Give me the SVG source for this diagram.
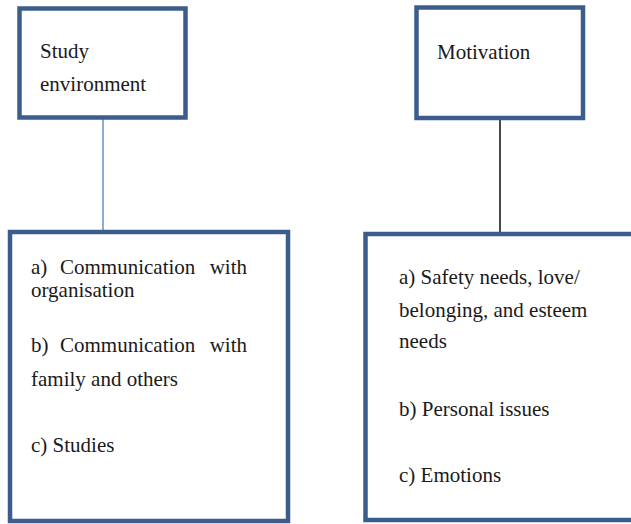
<svg xmlns="http://www.w3.org/2000/svg" width="631" height="524" viewBox="0 0 631 524">
  <style>
    .box { fill: #ffffff; stroke: #3c5d8c; stroke-width: 4.5; }
  </style>
  <rect width="631" height="524" fill="#ffffff"/>

  <!-- connectors -->
  <g id="connectors">
    <line x1="103" y1="119" x2="103" y2="231" stroke="#4f81bd" stroke-width="1.3"/>
    <line x1="500" y1="120" x2="500" y2="233" stroke="#1a1a1a" stroke-width="1.6"/>
  </g>

  <g font-family="Liberation Serif, Times New Roman, Tinos, Noto Serif, DejaVu Serif, serif" font-size="21" fill="#1a1a1a">
    <g id="study-environment">
      <rect class="box" x="19.5" y="8.5" width="166" height="109"/>
      <text x="40" y="58">Study</text>
      <text x="40" y="91">environment</text>
    </g>

    <g id="motivation">
      <rect class="box" x="416.5" y="7.5" width="166.5" height="110.5"/>
      <text x="437" y="59">Motivation</text>
    </g>

    <g id="study-details">
      <rect class="box" x="10" y="232" width="278" height="289"/>
      <text x="31" y="274">a)<tspan x="60">Communication</tspan><tspan x="247" text-anchor="end">with</tspan></text>
      <text x="31" y="297">organisation</text>
      <text x="31" y="352">b)<tspan x="60">Communication</tspan><tspan x="247" text-anchor="end">with</tspan></text>
      <text x="31" y="386">family and others</text>
      <text x="31" y="452">c) Studies</text>
    </g>

    <g id="motivation-details">
      <rect class="box" x="365.5" y="234" width="272" height="286"/>
      <text x="399" y="284">a) Safety needs, love/</text>
      <text x="399" y="317">belonging, and esteem</text>
      <text x="399" y="348">needs</text>
      <text x="399" y="416">b) Personal issues</text>
      <text x="399" y="482">c) Emotions</text>
    </g>
  </g>
</svg>
